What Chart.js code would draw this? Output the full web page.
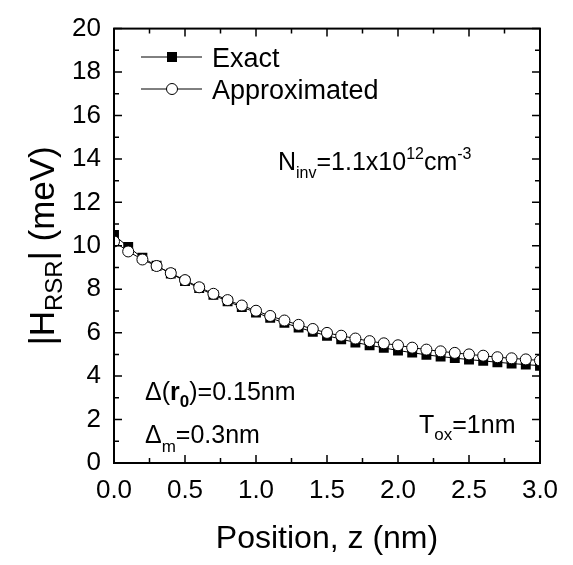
<!DOCTYPE html>
<html>
<head>
<meta charset="utf-8">
<script src="https://cdn.jsdelivr.net/npm/chart.js@4.4.1/dist/chart.umd.min.js"></script>
<style>
  html, body { margin: 0; padding: 0; background: #fff; }
  #chart { display: block; }
</style>
</head>
<body>
<canvas id="chart" width="573" height="565"></canvas>
<script>
var positions = [0.0, 0.1, 0.2, 0.3, 0.4, 0.5, 0.6, 0.7, 0.8, 0.9, 1.0, 1.1, 1.2, 1.3, 1.4, 1.5,
                 1.6, 1.7, 1.8, 1.9, 2.0, 2.1, 2.2, 2.3, 2.4, 2.5, 2.6, 2.7, 2.8, 2.9, 3.0];
var exactValues = [10.5, 9.95, 9.45, 9.08, 8.72, 8.38, 8.05, 7.74, 7.44, 7.18, 6.93, 6.68, 6.45, 6.24, 6.04, 5.86,
                   5.70, 5.55, 5.42, 5.30, 5.18, 5.08, 4.98, 4.90, 4.83, 4.76, 4.70, 4.64, 4.58, 4.53, 4.48];
var approxValues = [10.2, 9.74, 9.37, 9.07, 8.74, 8.42, 8.09, 7.79, 7.50, 7.25, 7.01, 6.77, 6.56, 6.36, 6.17, 5.99,
                    5.86, 5.73, 5.61, 5.51, 5.42, 5.31, 5.22, 5.14, 5.07, 5.00, 4.94, 4.87, 4.82, 4.77, 4.72];
var seriesNames = ['Exact', 'Approximated'];
var xTicks = [0, 0.5, 1.0, 1.5, 2.0, 2.5, 3.0];
var yTicks = [0, 2, 4, 6, 8, 10, 12, 14, 16, 18, 20];

var FONT = '"Liberation Sans", Arial, sans-serif';

function toPoints(xs, ys) {
    return xs.map(function(x, i) { return {x: x, y: ys[i]}; });
}

// draws a run of text pieces (sub/superscripts) starting at x, baseline y
function drawRich(ctx, parts, x, y) {
    var cx = x;
    parts.forEach(function(p) {
        ctx.font = (p.bold ? 'bold ' : '') + p.size + 'px ' + FONT;
        ctx.fillText(p.t, cx, y + (p.dy || 0));
        cx += ctx.measureText(p.t).width;
    });
    return cx - x;
}

function richWidth(ctx, parts) {
    var w = 0;
    parts.forEach(function(p) {
        ctx.font = (p.bold ? 'bold ' : '') + p.size + 'px ' + FONT;
        w += ctx.measureText(p.t).width;
    });
    return w;
}

var framePlugin = {
    id: 'frame',
    afterDatasetsDraw: function(chart) {
        var ctx = chart.ctx;
        var a = chart.chartArea;
        var xs = chart.scales.x, ys = chart.scales.y;
        ctx.save();
        ctx.strokeStyle = '#000';
        ctx.lineWidth = 2;
        ctx.strokeRect(a.left, a.top, a.right - a.left, a.bottom - a.top);

        // inward ticks on all four sides, minor ones halfway
        ctx.lineWidth = 1.5;
        ctx.beginPath();
        for (var v = 0; v <= 3.0001; v += 0.25) {
            var px = xs.getPixelForValue(v);
            var len = (Math.abs(v * 2 - Math.round(v * 2)) < 0.01) ? 8 : 5;
            ctx.moveTo(px, a.bottom); ctx.lineTo(px, a.bottom - len);
            ctx.moveTo(px, a.top); ctx.lineTo(px, a.top + len);
        }
        for (var w = 0; w <= 20; w += 1) {
            var py = ys.getPixelForValue(w);
            var l2 = (w % 2 === 0) ? 8 : 5;
            ctx.moveTo(a.left, py); ctx.lineTo(a.left + l2, py);
            ctx.moveTo(a.right, py); ctx.lineTo(a.right - l2, py);
        }
        ctx.stroke();
        ctx.restore();
    },
    afterDraw: function(chart) {
        var ctx = chart.ctx;
        ctx.save();
        ctx.fillStyle = '#000';
        ctx.strokeStyle = '#000';
        ctx.textBaseline = 'alphabetic';
        ctx.textAlign = 'left';

        // legend
        var ly = [57, 89];
        ctx.lineWidth = 1;
        ly.forEach(function(y, i) {
            ctx.beginPath();
            ctx.moveTo(141, y); ctx.lineTo(202, y);
            ctx.stroke();
            if (i === 0) {
                ctx.fillRect(172 - 5, y - 5, 10, 10);
            } else {
                ctx.beginPath();
                ctx.arc(172, y, 5.5, 0, Math.PI * 2);
                ctx.fillStyle = '#fff';
                ctx.fill();
                ctx.stroke();
                ctx.fillStyle = '#000';
            }
            ctx.font = '27px ' + FONT;
            ctx.fillText(seriesNames[i], 212, y + 10);
        });

        // annotations
        drawRich(ctx, [
            {t: 'N', size: 25}, {t: 'inv', size: 16, dy: 8}, {t: '=1.1x10', size: 25},
            {t: '12', size: 16, dy: -11}, {t: 'cm', size: 25}, {t: '-3', size: 16, dy: -11}
        ], 278, 170);
        drawRich(ctx, [
            {t: '\u0394(', size: 25}, {t: 'r', size: 25, bold: true}, {t: '0', size: 17, bold: true, dy: 7},
            {t: ')=0.15nm', size: 25}
        ], 145, 400);
        drawRich(ctx, [
            {t: '\u0394', size: 25}, {t: 'm', size: 17, dy: 9}, {t: '=0.3nm', size: 25}
        ], 145, 443);
        drawRich(ctx, [
            {t: 'T', size: 25}, {t: 'ox', size: 17, dy: 7}, {t: '=1nm', size: 25}
        ], 419, 433);

        // axis titles
        var a = chart.chartArea;
        ctx.font = '32px ' + FONT;
        ctx.textAlign = 'center';
        ctx.fillText('Position, z (nm)', (a.left + a.right) / 2, 548);

        ctx.textAlign = 'left';
        var yTitle = [
            {t: '|H', size: 35}, {t: 'RSR', size: 24, dy: 8}, {t: '| (meV)', size: 35}
        ];
        var tw = richWidth(ctx, yTitle);
        ctx.translate(54, (a.top + a.bottom) / 2);
        ctx.rotate(-Math.PI / 2);
        drawRich(ctx, yTitle, -tw / 2, 0);
        ctx.restore();
    }
};

var ctx = document.getElementById('chart').getContext('2d');
var chart = new Chart(ctx, {
    type: 'line',
    data: {
        datasets: [{
            label: seriesNames[0],
            data: toPoints(positions, exactValues),
            borderColor: '#000',
            borderWidth: 1,
            backgroundColor: '#000',
            pointStyle: 'rect',
            pointRadius: 7,
            pointBorderWidth: 0,
            order: 2
        }, {
            label: seriesNames[1],
            data: toPoints(positions, approxValues),
            borderColor: '#000',
            borderWidth: 1,
            pointBackgroundColor: '#fff',
            pointBorderColor: '#000',
            pointStyle: 'circle',
            pointRadius: 5.5,
            pointBorderWidth: 1,
            order: 1
        }]
    },
    options: {
        responsive: false,
        animation: false,
        layout: { padding: { top: 19, right: 33, left: 0, bottom: 0 } },
        plugins: { legend: { display: false }, tooltip: { enabled: false } },
        scales: {
            x: {
                type: 'linear',
                min: 0,
                max: 3,
                afterBuildTicks: function(s) { s.ticks = xTicks.map(function(v) { return {value: v}; }); },
                afterFit: function(s) { s.height = 102; },
                grid: { display: false, drawTicks: false },
                border: { display: false },
                ticks: {
                    padding: 12,
                    color: '#000',
                    font: { size: 26, family: FONT },
                    callback: function(v) { return v.toFixed(1); }
                }
            },
            y: {
                min: 0,
                max: 20,
                afterBuildTicks: function(s) { s.ticks = yTicks.map(function(v) { return {value: v}; }); },
                afterFit: function(s) { s.width = 114; },
                grid: { display: false, drawTicks: false },
                border: { display: false },
                ticks: {
                    padding: 13,
                    color: '#000',
                    font: { size: 26, family: FONT }
                }
            }
        }
    },
    plugins: [framePlugin]
});
</script>
</body>
</html>
